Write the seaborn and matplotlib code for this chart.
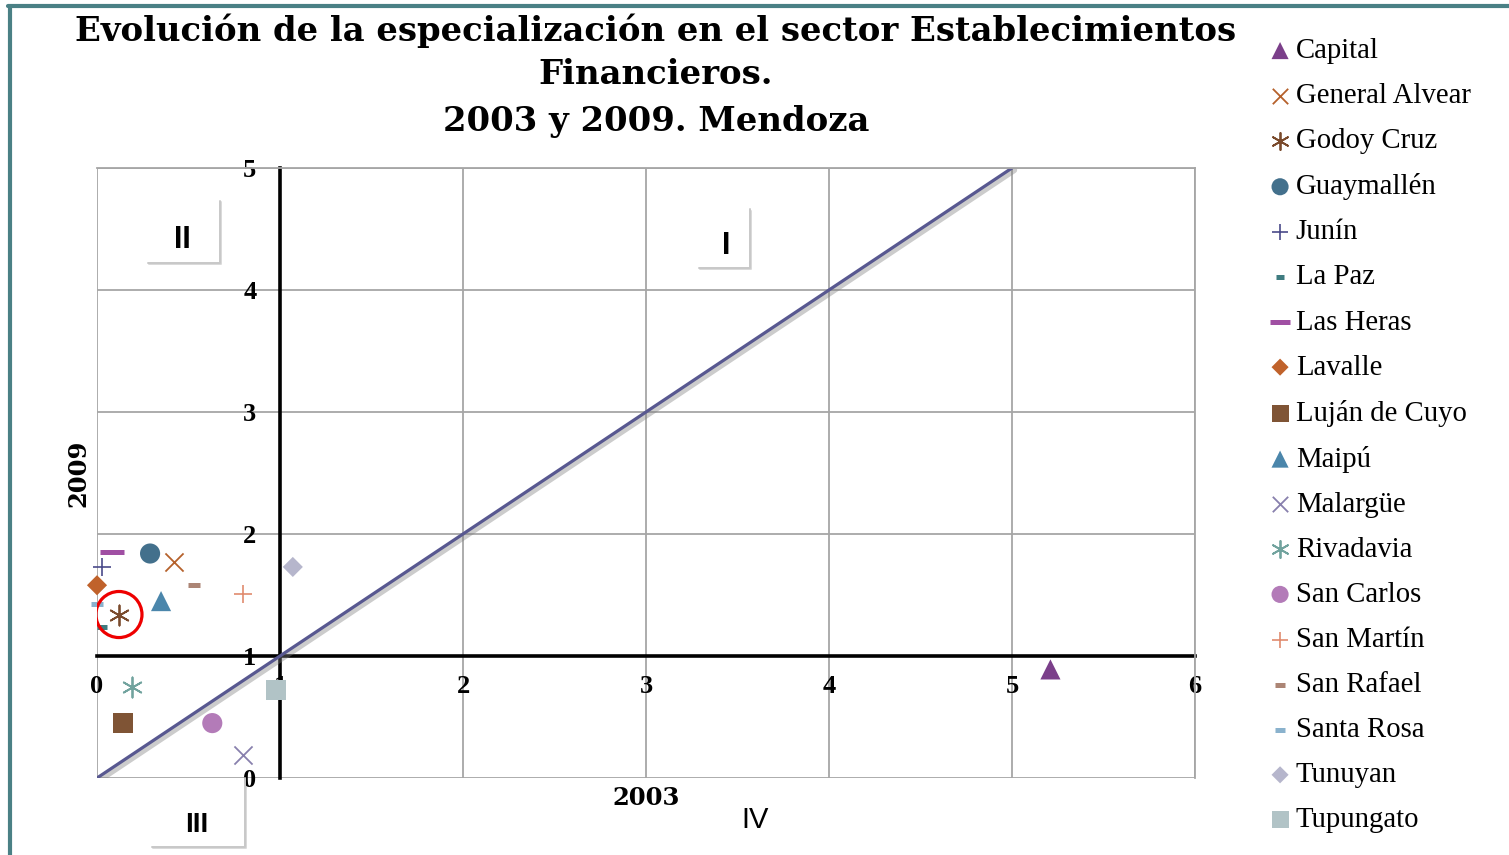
import matplotlib
matplotlib.use("Agg")
import matplotlib.pyplot as plt
import matplotlib.patheffects as pe
from matplotlib.lines import Line2D
import seaborn as sns

# Specialization index per department, 2003 (x) and 2009 (y)
departamentos = ["Capital", "General Alvear", "Godoy Cruz", "Guaymallén", "Junín",
                 "La Paz", "Las Heras", "Lavalle", "Luján de Cuyo", "Maipú",
                 "Malargüe", "Rivadavia", "San Carlos", "San Martín", "San Rafael",
                 "Santa Rosa", "Tunuyan", "Tupungato"]
esp_2003 = [5.21, 0.42, 0.12, 0.29, 0.03, 0.03, 0.08, 0.00, 0.14, 0.35,
            0.80, 0.19, 0.63, 0.80, 0.53, 0.00, 1.07, 0.98]
esp_2009 = [0.89, 1.77, 1.34, 1.84, 1.73, 1.24, 1.85, 1.58, 0.45, 1.45,
            0.19, 0.75, 0.45, 1.51, 1.58, 1.43, 1.73, 0.72]
destacado = "Godoy Cruz"

diagonal_x = [0, 5]
diagonal_y = [0, 5]

x_ticks = [0, 1, 2, 3, 4, 5, 6]
y_ticks = [0, 1, 2, 3, 4, 5]

colores = ["#7b3f8a", "#b5612b", "#7a4a2c", "#43708c", "#4a4a8a", "#3f7c80",
           "#a04fa3", "#c0622b", "#7f5435", "#4b86ab", "#8880ad", "#71a39e",
           "#b37bb8", "#e08b6e", "#ac8575", "#8ab2cd", "#b6b6cc", "#b1c3c6"]
asterisco = (6, 2, 0)
estilos = [  # marker, size, linewidth
    ("^", 210, 0), ("x", 170, 1.3), (asterisco, 210, 1.3), ("o", 210, 0),
    ("+", 170, 1.2), ("_", 55, 3.6), ("_", 300, 3.6), ("D", 105, 0),
    ("s", 205, 0), ("^", 210, 0), ("x", 170, 1.3), (asterisco, 210, 1.3),
    ("o", 210, 0), ("+", 170, 1.2), ("_", 65, 3.6), ("_", 80, 3.6),
    ("D", 105, 0), ("s", 205, 0),
]

sns.set_style("white")
plt.rcParams["font.family"] = ["Liberation Serif", "DejaVu Serif"]
for key in ("text.color", "axes.labelcolor", "xtick.color", "ytick.color"):
    plt.rcParams[key] = "black"

W, H = 1509, 855
fig = plt.figure(figsize=(W / 100, H / 100), dpi=100)
ax = fig.add_axes([97 / W, 77 / H, 1098 / W, 610 / H])

grid_color = "#a6a6a6"
ax.set_xlim(0, 6)
ax.set_ylim(0, 5)
ax.set_xticks(x_ticks)
ax.set_yticks(y_ticks)
ax.grid(True, color=grid_color, lw=1.3)
ax.set_axisbelow(True)

# crossing axes at (1, 1)
for side in ("left", "bottom"):
    ax.spines[side].set_position(("data", 1))
    ax.spines[side].set_color("black")
    ax.spines[side].set_linewidth(2.6)
    ax.spines[side].set_zorder(2)
for side in ("top", "right"):
    ax.spines[side].set_color(grid_color)
    ax.spines[side].set_linewidth(1.3)

ax.tick_params(axis="both", length=0, labelsize=19, colors="black")
ax.tick_params(axis="x", pad=14)
ax.tick_params(axis="y", pad=17)
for lab in ax.get_xticklabels() + ax.get_yticklabels():
    lab.set_fontweight("bold")

# 45-degree reference line
ax.plot(diagonal_x, diagonal_y, color="#585890", lw=2.3, zorder=2.2,
        path_effects=[pe.SimpleLineShadow(offset=(1.5, -1.5), shadow_color="#808080",
                                          alpha=0.4, linewidth=4.5),
                      pe.Normal()])

for nombre, x, y, c, (m, s, lw) in zip(departamentos, esp_2003, esp_2009, colores, estilos):
    kws = dict(marker=m, s=s, color=c, label=nombre, legend=False, ax=ax, zorder=3,
               clip_on=False)
    if lw:
        kws["linewidth"] = lw
    else:
        kws["edgecolor"] = "none"
        kws["linewidth"] = 0
    sns.scatterplot(x=[x], y=[y], **kws)

i = departamentos.index(destacado)
ax.scatter([esp_2003[i]], [esp_2009[i]], s=1100, facecolors="none",
           edgecolors="#ee0000", linewidths=2.3, zorder=4)

# quadrant labels with their boxes
box_kw = dict(color="#c8c8c8", lw=1.4, clip_on=False, zorder=1.5,
              path_effects=[pe.SimpleLineShadow(offset=(0.8, -0.8), alpha=0.15),
                            pe.Normal()])
ax.plot([0.28, 0.672, 0.672], [4.22, 4.22, 4.73], **box_kw)
ax.plot([3.29, 3.568, 3.568], [4.18, 4.18, 4.66], **box_kw)
ax.plot([0.30, 0.809, 0.809], [-0.566, -0.566, 0.0], **box_kw)
quad_font = ["Liberation Sans Narrow", "Liberation Sans"]
ax.text(0.464, 4.41, "II", fontsize=22, fontweight="bold", family=quad_font,
        ha="center", va="center")
ax.text(3.437, 4.36, "I", fontsize=22, fontweight="bold", family=quad_font,
        ha="center", va="center")
ax.text(0.546, -0.385, "III", fontsize=20, fontweight="bold", family=quad_font,
        ha="center", va="center", clip_on=False)
ax.text(3.596, -0.344, "IV", fontsize=21, family=quad_font,
        ha="center", va="center", clip_on=False)

# axis titles
ax.text(0.5, -20 / 610, "2003", transform=ax.transAxes, ha="center", va="center",
        fontsize=17.5, fontweight="bold", family=["DejaVu Serif"])
ax.text(-19 / 1098, 0.5, "2009", transform=ax.transAxes, ha="center", va="center",
        rotation=90, fontsize=17.5, fontweight="bold", family=["DejaVu Serif"])

# title
titulo = ["Evolución de la especialización en el sector Establecimientos",
          "Financieros.", "2003 y 2009. Mendoza"]
for linea, ypx in zip(titulo, [31, 75, 121]):
    fig.text(656 / W, 1 - ypx / H, linea, ha="center", va="center",
             fontsize=24.4, fontweight="bold", family=["DejaVu Serif"])

handles, labels = ax.get_legend_handles_labels()
fig.legend(handles, labels, loc="upper left", bbox_to_anchor=(1270 / W, 1 - 38 / H),
           frameon=False, fontsize=20.7, scatterpoints=1, handlelength=0.7,
           handletextpad=0.2, labelspacing=0.66, borderaxespad=0, borderpad=0,
           markerscale=0.85)

# page frame
frame_color = "#4a8085"
fig.add_artist(Line2D([8 / W, 1], [1 - 6 / H, 1 - 6 / H], color=frame_color, lw=3,
                      transform=fig.transFigure))
fig.add_artist(Line2D([10 / W, 10 / W], [0, 1 - 6 / H], color=frame_color, lw=3,
                      transform=fig.transFigure))

fig.savefig("out.png", dpi=100)
